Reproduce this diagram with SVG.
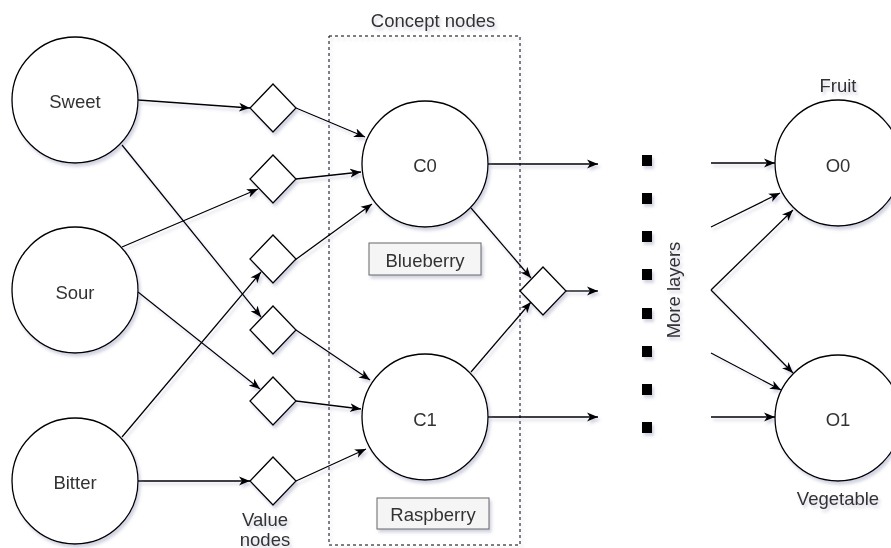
<svg xmlns="http://www.w3.org/2000/svg" width="891" height="548" viewBox="0 0 891 548">
  <style>
    .node { fill: #ffffff; stroke: #000000; stroke-width: 1.3; }
    .label { font-family: "Liberation Sans", Arial, sans-serif; font-size: 18.5px; fill: #333333; text-anchor: middle; dominant-baseline: central; }
    .edge { fill: none; stroke: #000000; stroke-width: 1.3; marker-end: url(#arrow); }
    .tag { fill: #f5f5f5; stroke: #666666; stroke-width: 1; }
    .dot { fill: #000000; }
  </style>
  <defs>
    <filter id="shadow" x="-5%" y="-5%" width="110%" height="110%">
      <feDropShadow dx="2" dy="3" stdDeviation="1.5" flood-color="#6b6f9a" flood-opacity="0.3"/>
    </filter>
    <marker id="arrow" viewBox="0 0 11 10" refX="11" refY="5" markerWidth="11" markerHeight="10" markerUnits="userSpaceOnUse" orient="auto">
      <path d="M0,0.5 L11,5 L0,9.5 L3,5 Z" fill="#000000"/>
    </marker>
  </defs>

  <rect width="891" height="548" fill="#ffffff"/>

  <g filter="url(#shadow)">
    <!-- concept node container -->
    <g id="concept-box">
      <rect x="329" y="36" width="191" height="509" fill="none" stroke="#000000" stroke-width="1" stroke-dasharray="3,3"/>
      <text class="label" x="433" y="20">Concept nodes</text>
    </g>

    <!-- connectors -->
    <g id="connectors">
      <!-- inputs to value nodes -->
      <line class="edge" x1="138" y1="100" x2="250" y2="108"/>
      <line class="edge" x1="122" y1="145" x2="261" y2="317"/>
      <line class="edge" x1="122" y1="247" x2="258" y2="189"/>
      <line class="edge" x1="138" y1="292" x2="260" y2="389"/>
      <line class="edge" x1="122" y1="437" x2="261" y2="272"/>
      <line class="edge" x1="138" y1="481" x2="250" y2="481"/>
      <!-- value nodes to concept nodes -->
      <line class="edge" x1="296" y1="108" x2="365" y2="137"/>
      <line class="edge" x1="296" y1="179" x2="361" y2="172"/>
      <line class="edge" x1="295" y1="260" x2="372" y2="204"/>
      <line class="edge" x1="296" y1="330" x2="370" y2="380"/>
      <line class="edge" x1="296" y1="401" x2="361" y2="409"/>
      <line class="edge" x1="296" y1="481" x2="366" y2="449"/>
      <!-- concept nodes onward -->
      <line class="edge" x1="471" y1="208" x2="531" y2="278"/>
      <line class="edge" x1="471" y1="372" x2="531" y2="302"/>
      <line class="edge" x1="488" y1="164" x2="598" y2="164"/>
      <line class="edge" x1="566" y1="291" x2="598" y2="291"/>
      <line class="edge" x1="488" y1="417" x2="598" y2="417"/>
      <!-- into output nodes -->
      <line class="edge" x1="711" y1="163" x2="775" y2="163"/>
      <line class="edge" x1="711" y1="227" x2="780" y2="193"/>
      <line class="edge" x1="711" y1="290" x2="793" y2="210"/>
      <line class="edge" x1="711" y1="290" x2="793" y2="373"/>
      <line class="edge" x1="711" y1="353" x2="781" y2="390"/>
      <line class="edge" x1="711" y1="417" x2="775" y2="417"/>
    </g>

    <!-- input nodes -->
    <g id="sweet">
      <circle class="node" cx="75" cy="100" r="63"/>
      <text class="label" x="75" y="101">Sweet</text>
    </g>
    <g id="sour">
      <circle class="node" cx="75" cy="290" r="63"/>
      <text class="label" x="75" y="292">Sour</text>
    </g>
    <g id="bitter">
      <circle class="node" cx="75" cy="481" r="63"/>
      <text class="label" x="75" y="482">Bitter</text>
    </g>

    <!-- value nodes -->
    <g id="value-1"><path class="node" d="M273,84 L296,108 L273,132 L250,108 Z"/></g>
    <g id="value-2"><path class="node" d="M273,155 L296,179 L273,203 L250,179 Z"/></g>
    <g id="value-3"><path class="node" d="M273,235 L296,259 L273,283 L250,259 Z"/></g>
    <g id="value-4"><path class="node" d="M273,306 L296,330 L273,354 L250,330 Z"/></g>
    <g id="value-5"><path class="node" d="M273,377 L296,401 L273,425 L250,401 Z"/></g>
    <g id="value-6"><path class="node" d="M273,457 L296,481 L273,505 L250,481 Z"/></g>
    <g id="value-7"><path class="node" d="M543,267 L566,291 L543,315 L520,291 Z"/></g>
    <g id="value-label">
      <text class="label" x="265" y="519">Value</text>
      <text class="label" x="265" y="539">nodes</text>
    </g>

    <!-- concept nodes -->
    <g id="c0">
      <circle class="node" cx="425" cy="164" r="63"/>
      <text class="label" x="425" y="165">C0</text>
    </g>
    <g id="blueberry">
      <rect class="tag" x="369" y="243" width="112" height="32"/>
      <text class="label" x="425" y="260">Blueberry</text>
    </g>
    <g id="c1">
      <circle class="node" cx="425" cy="417" r="63"/>
      <text class="label" x="425" y="419">C1</text>
    </g>
    <g id="raspberry">
      <rect class="tag" x="377" y="498" width="112" height="31"/>
      <text class="label" x="433" y="514">Raspberry</text>
    </g>

    <!-- hidden layers -->
    <g id="more-layers">
      <rect class="dot" x="642" y="155" width="10" height="11"/>
      <rect class="dot" x="642" y="193" width="10" height="11"/>
      <rect class="dot" x="642" y="231" width="10" height="11"/>
      <rect class="dot" x="642" y="269" width="10" height="11"/>
      <rect class="dot" x="642" y="308" width="10" height="11"/>
      <rect class="dot" x="642" y="346" width="10" height="11"/>
      <rect class="dot" x="642" y="384" width="10" height="11"/>
      <rect class="dot" x="642" y="422" width="10" height="11"/>
      <text class="label" x="673" y="290" transform="rotate(-90 673 290)">More layers</text>
    </g>

    <!-- output nodes -->
    <g id="o0">
      <circle class="node" cx="838" cy="163" r="63"/>
      <text class="label" x="838" y="165">O0</text>
      <text class="label" x="838" y="85">Fruit</text>
    </g>
    <g id="o1">
      <circle class="node" cx="838" cy="418" r="63"/>
      <text class="label" x="838" y="419">O1</text>
      <text class="label" x="838" y="498">Vegetable</text>
    </g>
  </g>
</svg>
